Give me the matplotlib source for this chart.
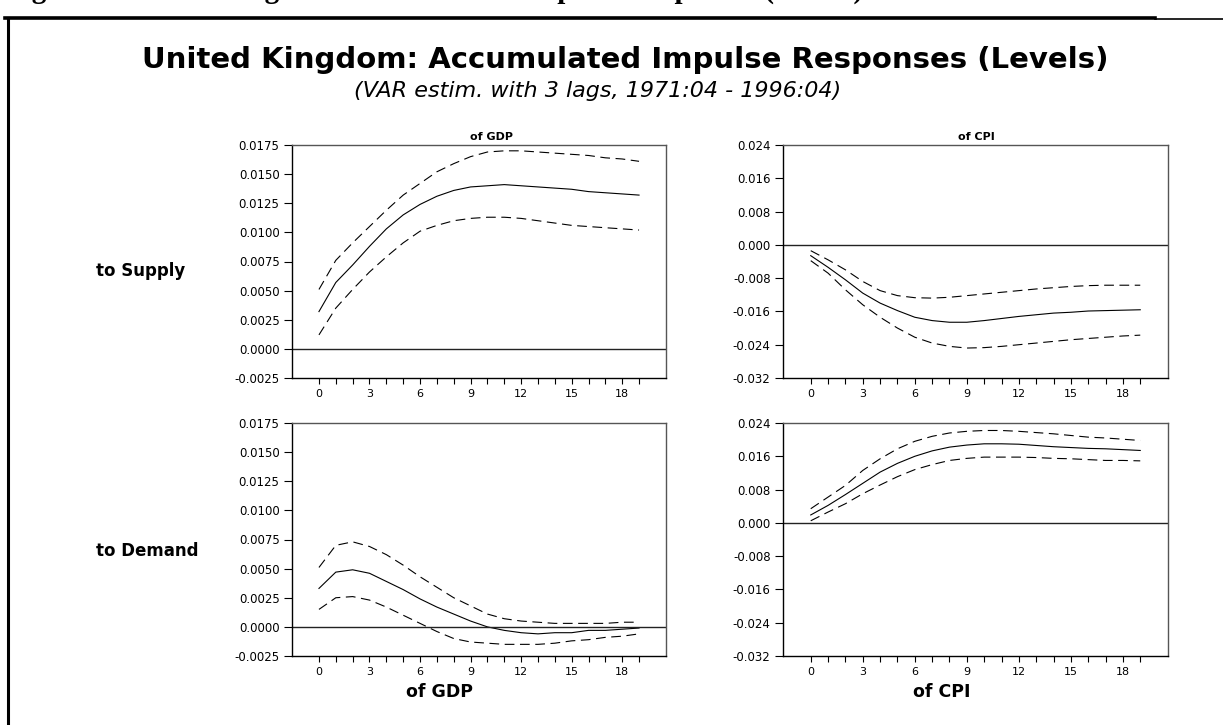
import matplotlib
matplotlib.use("Agg")
import matplotlib.pyplot as plt
from matplotlib.lines import Line2D

plt.rcParams['font.family'] = ['DejaVu Sans']
plt.rcParams['lines.scale_dashes'] = False

# horizon (quarters)
steps = list(range(20))

# GDP to supply shock
gdp_sup = [0.0032, 0.0057, 0.0072, 0.0088, 0.0103, 0.0115, 0.0124, 0.0131, 0.0136, 0.0139,
           0.0140, 0.0141, 0.0140, 0.0139, 0.0138, 0.0137, 0.0135, 0.0134, 0.0133, 0.0132]
gdp_sup_hi = [0.0051, 0.0076, 0.0091, 0.0105, 0.0119, 0.0132, 0.0142, 0.0152, 0.0159, 0.0165,
              0.0169, 0.0170, 0.0170, 0.0169, 0.0168, 0.0167, 0.0166, 0.0164, 0.0163, 0.0161]
gdp_sup_lo = [0.0012, 0.0035, 0.0051, 0.0066, 0.0079, 0.0091, 0.0101, 0.0106, 0.0110, 0.0112,
              0.0113, 0.0113, 0.0112, 0.0110, 0.0108, 0.0106, 0.0105, 0.0104, 0.0103, 0.0102]

# CPI to supply shock
cpi_sup = [-0.0026, -0.0054, -0.0084, -0.0116, -0.0140, -0.0158, -0.0174, -0.0182, -0.0186, -0.0186,
           -0.0182, -0.0177, -0.0172, -0.0168, -0.0164, -0.0162, -0.0159, -0.0158, -0.0157, -0.0156]
cpi_sup_hi = [-0.0014, -0.0036, -0.0060, -0.0088, -0.0110, -0.0122, -0.0127, -0.0128, -0.0126, -0.0122,
              -0.0118, -0.0114, -0.0110, -0.0106, -0.0103, -0.0100, -0.0098, -0.0097, -0.0097, -0.0097]
cpi_sup_lo = [-0.0038, -0.0068, -0.0108, -0.0144, -0.0174, -0.0200, -0.0222, -0.0236, -0.0244, -0.0248,
              -0.0247, -0.0244, -0.0240, -0.0236, -0.0232, -0.0228, -0.0225, -0.0222, -0.0219, -0.0217]

# GDP to demand shock
gdp_dem = [0.0033, 0.0047, 0.0049, 0.0046, 0.0039, 0.0032, 0.0024, 0.0017, 0.0011, 0.0005,
           0.0000, -0.0003, -0.0005, -0.0006, -0.0005, -0.0005, -0.0003, -0.0003, -0.0002, -0.0001]
gdp_dem_hi = [0.0051, 0.0070, 0.0073, 0.0069, 0.0062, 0.0053, 0.0043, 0.0034, 0.0025, 0.0018,
              0.0011, 0.0007, 0.0005, 0.0004, 0.0003, 0.0003, 0.0003, 0.0003, 0.0004, 0.0004]
gdp_dem_lo = [0.0015, 0.0025, 0.0026, 0.0023, 0.0017, 0.0010, 0.0003, -0.0004, -0.0010, -0.0013,
              -0.0014, -0.0015, -0.0015, -0.0015, -0.0014, -0.0012, -0.0011, -0.0009, -0.0008, -0.0006]

# CPI to demand shock
cpi_dem = [0.0019, 0.0042, 0.0068, 0.0095, 0.0122, 0.0143, 0.0160, 0.0173, 0.0182, 0.0187,
           0.0190, 0.0190, 0.0189, 0.0186, 0.0183, 0.0181, 0.0179, 0.0178, 0.0176, 0.0174]
cpi_dem_hi = [0.0034, 0.0062, 0.0090, 0.0126, 0.0154, 0.0178, 0.0196, 0.0208, 0.0216, 0.0220,
              0.0222, 0.0222, 0.0220, 0.0217, 0.0214, 0.0210, 0.0206, 0.0204, 0.0201, 0.0198]
cpi_dem_lo = [0.0005, 0.0026, 0.0046, 0.0070, 0.0091, 0.0111, 0.0128, 0.0140, 0.0150, 0.0155,
              0.0158, 0.0158, 0.0158, 0.0157, 0.0155, 0.0154, 0.0152, 0.0150, 0.0150, 0.0149]

gdp_ticks = [-0.0025, 0.0, 0.0025, 0.0050, 0.0075, 0.0100, 0.0125, 0.0150, 0.0175]
cpi_ticks = [-0.032, -0.024, -0.016, -0.008, 0.0, 0.008, 0.016, 0.024]

W, H = 1223, 725
fig = plt.figure(figsize=(W / 100, H / 100), dpi=100)


def px_box(left, top, right, bottom):
    return [left / W, 1 - bottom / H, (right - left) / W, (bottom - top) / H]


def panel(box, mid, hi, lo, yticks, fmt):
    ax = fig.add_axes(box)
    ax.plot(steps, hi, color='black', lw=0.8, dashes=(7, 4))
    ax.plot(steps, lo, color='black', lw=0.8, dashes=(7, 4))
    ax.plot(steps, mid, color='black', lw=0.8)
    ax.axhline(0, color='#222222', lw=1.0)
    ax.set_xlim(-1.6, 20.6)
    ax.set_ylim(yticks[0], yticks[-1])
    ax.set_xticks(steps)
    ax.set_xticklabels([str(s) if s % 3 == 0 else '' for s in steps], fontsize=8)
    ax.set_yticks(yticks)
    ax.set_yticklabels([fmt.format(v) for v in yticks], fontsize=8.5)
    ax.tick_params(axis='x', direction='out', length=4, width=0.8, pad=4)
    ax.tick_params(axis='y', direction='out', length=6, width=0.8, pad=3)
    for side in ['left', 'bottom']:
        ax.spines[side].set_color('black')
        ax.spines[side].set_linewidth(1.0)
    for side in ['top', 'right']:
        ax.spines[side].set_color('#555555')
        ax.spines[side].set_linewidth(1.0)
    return ax


panel(px_box(292, 145, 666, 378), gdp_sup, gdp_sup_hi, gdp_sup_lo, gdp_ticks, '{:.4f}')
panel(px_box(783, 145, 1168, 378), cpi_sup, cpi_sup_hi, cpi_sup_lo, cpi_ticks, '{:.3f}')
panel(px_box(292, 423, 666, 656), gdp_dem, gdp_dem_hi, gdp_dem_lo, gdp_ticks, '{:.4f}')
panel(px_box(783, 423, 1168, 656), cpi_dem, cpi_dem_hi, cpi_dem_lo, cpi_ticks, '{:.3f}')


def ftext(x, y, s, **kw):
    fig.text(x / W, 1 - y / H, s, ha='center', va='center', **kw)


# titles and labels
ftext(625, 60, 'United Kingdom: Accumulated Impulse Responses (Levels)',
      fontsize=21, fontweight='bold')
ftext(598, 91, '(VAR estim. with 3 lags, 1971:04 - 1996:04)', fontsize=16, style='italic')
ftext(491, 137, 'of GDP', fontsize=8, fontweight='bold')
ftext(976, 137, 'of CPI', fontsize=8, fontweight='bold')
ftext(141, 271, 'to Supply', fontsize=12, fontweight='bold')
ftext(147, 551, 'to Demand', fontsize=12, fontweight='bold')
ftext(440, 692, 'of GDP', fontsize=12.5, fontweight='bold')
ftext(942, 692, 'of CPI', fontsize=12.5, fontweight='bold')

# caption of the page above the box, cut off at the top edge
fig.text(6 / W, 1 + 2 / H, 'Figure 6: United Kingdom: Accumulated Impulse Responses (Levels)',
         fontsize=21, fontweight='bold', family='Liberation Serif', ha='left', va='baseline')

# page frame
fig.add_artist(Line2D([5 / W, 1155 / W], [1 - 18 / H, 1 - 18 / H],
                      transform=fig.transFigure, color='black', lw=2.6))
fig.add_artist(Line2D([1155 / W, 1], [1 - 19 / H, 1 - 19 / H],
                      transform=fig.transFigure, color='black', lw=1.2))
fig.add_artist(Line2D([8 / W, 8 / W], [1 - 18 / H, 0],
                      transform=fig.transFigure, color='black', lw=2.2))

fig.savefig('out.png', dpi=100)
